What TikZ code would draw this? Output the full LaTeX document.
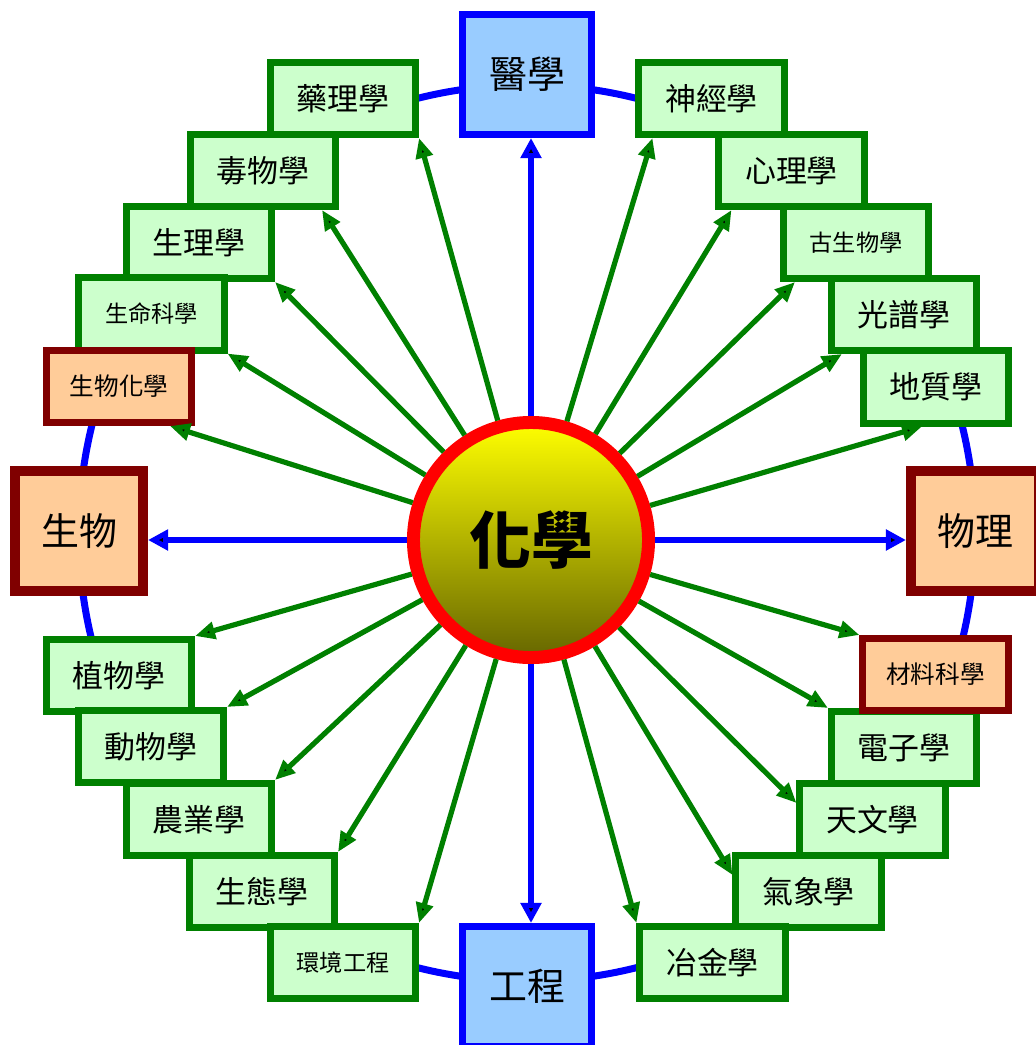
\documentclass[tikz,border=0pt]{standalone}
\usepackage{fontspec}
\setmainfont{Noto Sans CJK TC}
\usetikzlibrary{arrows.meta}

\definecolor{boxgreen}{RGB}{0,128,0}
\definecolor{palegreen}{RGB}{204,255,204}
\definecolor{paleblue}{RGB}{153,204,255}
\definecolor{darkred}{RGB}{128,0,0}
\definecolor{paleorange}{RGB}{255,204,153}
\definecolor{olive}{RGB}{102,102,0}

\tikzset{
  field/.style={shape=rectangle, draw=boxgreen, fill=palegreen, line width=0.175cm,
    minimum width=3.625cm, minimum height=1.8cm, inner sep=0pt,
    font=\fontsize{22}{24}\selectfont},
  longname/.style={font=\fontsize{16.5}{18}\selectfont},
  bridge/.style={field, draw=darkred, fill=paleorange, font=\fontsize{17.5}{19}\selectfont},
  major/.style={shape=rectangle, draw=blue, fill=paleblue, line width=0.175cm,
    minimum width=3.225cm, minimum height=3cm, inner sep=0pt,
    font=\fontsize{27}{29}\selectfont},
  science/.style={major, draw=darkred, fill=paleorange, line width=0.25cm,
    minimum width=3.2cm},
  core/.style={shape=circle, draw=red, line width=0.325cm, minimum size=5.875cm,
    inner sep=0pt, top color=yellow, bottom color=olive,
    font=\bfseries\fontsize{44}{48}\selectfont},
  sub/.style={draw=boxgreen, line width=0.13cm,
    -{Triangle[length=0.5cm, width=0.42cm]}},
  main/.style={draw=blue, line width=0.15cm,
    -{Triangle[length=0.5cm, width=0.5cm]}},
  ring/.style={draw=blue, line width=0.175cm}
}

\begin{document}
\begin{tikzpicture}[x=0.025cm, y=-0.025cm]
    \useasboundingbox (0,0) rectangle (1035,1045);

    % big blue ring behind everything
    \draw[ring] (527,533) circle[radius=11.2cm];

    \node[core] (huaxue) at (531,540) {化學};

    % four main fields
    \node[major] (yixue) at (527,74.5) {醫學};
    \node[major] (gongcheng) at (527,986.5) {工程};
    \node[science] (shengwu) at (79,531) {生物};
    \node[science] (wuli) at (975,531) {物理};

    % upper left
    \node[field] (yaoli) at (343,98.5) {藥理學};
    \node[field] (duwu) at (263,170.5) {毒物學};
    \node[field] (shengli) at (199,242.5) {生理學};
    \node[field, longname] (shengming) at (151.5,314) {生命科學};

    % upper right
    \node[field] (shenjing) at (711.5,98.5) {神經學};
    \node[field] (xinli) at (791.5,170.5) {心理學};
    \node[field, longname] (gusheng) at (856,242.5) {古生物學};
    \node[field] (guangpu) at (904,314.5) {光譜學};
    \node[field] (dizhi) at (936,387) {地質學};

    % lower left
    \node[field] (zhiwu) at (119,675.5) {植物學};
    \node[field] (dongwu) at (151,746.5) {動物學};
    \node[field] (nongye) at (199,819.5) {農業學};
    \node[field] (shengtai) at (262,891.5) {生態學};
    \node[field, longname] (huanjing) at (343,962.5) {環境工程};

    % lower right
    \node[field] (dianzi) at (904,747.5) {電子學};
    \node[field] (tianwen) at (872.5,819.5) {天文學};
    \node[field] (qixiang) at (808.5,891.5) {氣象學};
    \node[field] (yejin) at (712.5,962.5) {冶金學};

    % cross-over fields
    \node[bridge] (shenghua) at (119,386.5) {生物化學};
    \node[bridge] (cailiao) at (935.5,674.5) {材料科學};

    \path [main] (huaxue) edge (yixue.south -| huaxue);
    \path [main] (huaxue) edge (gongcheng.north -| huaxue);
    \path [main] (huaxue) edge (shengwu.east |- huaxue);
    \path [main] (huaxue) edge (wuli.west |- huaxue);

    \path [sub] (huaxue) edge (yaoli.south east);
    \path [sub] (huaxue) edge ([xshift=-0.425cm]duwu.south east);
    \path [sub] (huaxue) edge (shengli.south east);
    \path [sub] (huaxue) edge (shengming.south east);
    \path [sub] (huaxue) edge ([xshift=-0.625cm]shenghua.south east);

    \path [sub] (huaxue) edge ([xshift=0.425cm]shenjing.south west);
    \path [sub] (huaxue) edge ([xshift=0.4cm]xinli.south west);
    \path [sub] (huaxue) edge ([xshift=0.375cm]gusheng.south west);
    \path [sub] (huaxue) edge ([xshift=0.35cm]guangpu.south west);
    \path [sub] (huaxue) edge ([xshift=1.55cm]dizhi.south west);

    \path [sub] (huaxue) edge (zhiwu.north east);
    \path [sub] (huaxue) edge (dongwu.north east);
    \path [sub] (huaxue) edge (nongye.north east);
    \path [sub] (huaxue) edge (shengtai.north east);
    \path [sub] (huaxue) edge (huanjing.north east);

    \path [sub] (huaxue) edge (cailiao.north west);
    \path [sub] (huaxue) edge (dianzi.north west);
    \path [sub] (huaxue) edge ([yshift=-0.575cm]tianwen.north west);
    \path [sub] (huaxue) edge ([yshift=-0.575cm]qixiang.north west);
    \path [sub] (huaxue) edge (yejin.north west);
\end{tikzpicture}
\end{document}
